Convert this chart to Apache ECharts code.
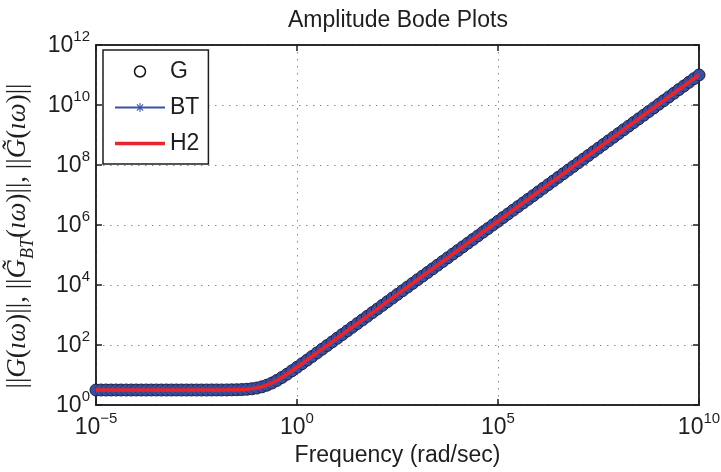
<!DOCTYPE html>
<html>
<head>
<meta charset="utf-8">
<script src="https://cdn.jsdelivr.net/npm/echarts@6/dist/echarts.min.js"></script>
<style>
html,body{margin:0;padding:0;background:#fff;}
#chart{width:721px;height:472px;}
</style>
</head>
<body>
<div id="chart"></div>
<script>
// Frequencies (rad/sec), 8 samples per decade
const frequency = [
  1e-5,1.334e-5,1.778e-5,2.371e-5,3.162e-5,4.217e-5,5.623e-5,7.499e-5,
  1e-4,1.334e-4,1.778e-4,2.371e-4,3.162e-4,4.217e-4,5.623e-4,7.499e-4,
  1e-3,1.334e-3,1.778e-3,2.371e-3,3.162e-3,4.217e-3,5.623e-3,7.499e-3,
  1e-2,1.334e-2,1.778e-2,2.371e-2,3.162e-2,4.217e-2,5.623e-2,7.499e-2,
  1e-1,1.334e-1,1.778e-1,2.371e-1,3.162e-1,4.217e-1,5.623e-1,7.499e-1,
  1e0,1.334e0,1.778e0,2.371e0,3.162e0,4.217e0,5.623e0,7.499e0,
  1e1,1.334e1,1.778e1,2.371e1,3.162e1,4.217e1,5.623e1,7.499e1,
  1e2,1.334e2,1.778e2,2.371e2,3.162e2,4.217e2,5.623e2,7.499e2,
  1e3,1.334e3,1.778e3,2.371e3,3.162e3,4.217e3,5.623e3,7.499e3,
  1e4,1.334e4,1.778e4,2.371e4,3.162e4,4.217e4,5.623e4,7.499e4,
  1e5,1.334e5,1.778e5,2.371e5,3.162e5,4.217e5,5.623e5,7.499e5,
  1e6,1.334e6,1.778e6,2.371e6,3.162e6,4.217e6,5.623e6,7.499e6,
  1e7,1.334e7,1.778e7,2.371e7,3.162e7,4.217e7,5.623e7,7.499e7,
  1e8,1.334e8,1.778e8,2.371e8,3.162e8,4.217e8,5.623e8,7.499e8,
  1e9,1.334e9,1.778e9,2.371e9,3.162e9,4.217e9,5.623e9,7.499e9,
  1e10
];
// ||G(iw)|| (BT and H2 reductions overlay it)
const gMagnitude = [
  3.16,3.16,3.16,3.16,3.16,3.16,3.16,3.16,
  3.16,3.16,3.16,3.16,3.16,3.16,3.16,3.16,
  3.16,3.16,3.16,3.16,3.16,3.16,3.16,3.17,
  3.17,3.17,3.18,3.20,3.22,3.27,3.34,3.47,
  3.68,4.03,4.57,5.39,6.60,8.29,10.6,13.8,
  18.1,23.8,31.3,41.4,54.7,72.4,95.8,126.8,
  168,222,294,390,516,683,904,1200,
  1580,2100,2780,3680,4870,6450,8540,1.13e4,
  1.50e4,1.98e4,2.62e4,3.47e4,4.60e4,6.09e4,8.06e4,1.07e5,
  1.41e5,1.87e5,2.48e5,3.28e5,4.34e5,5.75e5,7.61e5,1.01e6,
  1.33e6,1.77e6,2.34e6,3.10e6,4.10e6,5.43e6,7.18e6,9.51e6,
  1.26e7,1.67e7,2.21e7,2.92e7,3.87e7,5.12e7,6.78e7,8.98e7,
  1.19e8,1.57e8,2.08e8,2.76e8,3.65e8,4.84e8,6.40e8,8.48e8,
  1.12e9,1.49e9,1.97e9,2.60e9,3.45e9,4.57e9,6.04e9,8.00e9,
  1.06e10,1.40e10,1.86e10,2.46e10,3.26e10,4.31e10,5.71e10,7.55e10,
  1.00e11
];
const btMagnitude = gMagnitude;   // balanced truncation curve coincides
const h2Magnitude = gMagnitude;   // H2 reduction curve coincides

const seriesNames = ['G', 'BT', 'H2'];
const xTickValues = [1e-5, 1e0, 1e5, 1e10];
const yTickValues = [1e0, 1e2, 1e4, 1e6, 1e8, 1e10, 1e12];

const pairs = (ys) => frequency.map((f, i) => [f, ys[i]]);

const SANS = "'Liberation Sans', Arial, Helvetica, sans-serif";
const SERIF = "'Liberation Serif', 'Times New Roman', serif";
const INK = '#1e1e1e';

function powLabel(v) {
  const e = Math.round(Math.log10(v));
  const s = e < 0 ? '\u2212' + Math.abs(e) : String(e);
  return '{b|10}{e|' + s + '}';
}
const powRich = {
  b: { fontFamily: SANS, fontSize: 23, lineHeight: 24, color: INK, verticalAlign: 'bottom' },
  e: { fontFamily: SANS, fontSize: 15, lineHeight: 15, color: INK, verticalAlign: 'bottom', padding: [0, 0, 13, 0] }
};

const asterisk = 'path://M-0.6,-5L0.6,-5L0.6,5L-0.6,5Z M-5,-0.6L5,-0.6L5,0.6L-5,0.6Z M-3.96,-3.11L-3.11,-3.96L3.96,3.11L3.11,3.96Z M3.96,-3.11L3.11,-3.96L-3.96,3.11L-3.11,3.96Z';
const redBar = 'path://M0,0L50,0L50,3.5L0,3.5Z';

const gridLine = { show: true, lineStyle: { color: '#8a8a8a', width: 1, type: [1.5, 5.5] } };

const chart = echarts.init(document.getElementById('chart'), null, { renderer: 'canvas' });
chart.setOption({
  animation: false,
  backgroundColor: '#fff',
  title: {
    text: 'Amplitude Bode Plots',
    left: 283, top: 4,
    textStyle: { fontFamily: SANS, fontSize: 23, fontWeight: 'normal', color: INK }
  },
  grid: {
    left: 96, right: 22, top: 45, bottom: 67,
    containLabel: false, outerBoundsMode: 'none',
    show: true, borderColor: INK, borderWidth: 1.5, backgroundColor: 'transparent'
  },
  legend: {
    orient: 'vertical', left: 103, top: 50,
    padding: [10, 9, 9, 11], itemGap: 13,
    itemWidth: 50, itemHeight: 11,
    backgroundColor: '#fff', borderColor: INK, borderWidth: 1.5,
    textStyle: { fontFamily: SANS, fontSize: 23, color: INK },
    data: [
      { name: seriesNames[0], icon: 'circle', itemStyle: { color: '#fff', borderColor: '#111', borderWidth: 1.5 } },
      { name: seriesNames[1] },
      { name: seriesNames[2], icon: redBar, itemStyle: { color: '#ea2429', borderWidth: 0 } }
    ],
    z: 10
  },
  xAxis: [
    {
      type: 'log', logBase: 10, min: 1e-5, max: 1e10, interval: 5, position: 'bottom',
      axisLine: { show: true, lineStyle: { color: INK, width: 1.5 } },
      axisTick: { show: true, inside: true, length: 6, customValues: xTickValues, lineStyle: { color: INK, width: 1.5 } },
      axisLabel: { show: true, margin: 10, formatter: powLabel, rich: powRich, customValues: xTickValues },
      splitLine: gridLine,
      minorTick: { show: false }, minorSplitLine: { show: false },
      name: 'Frequency (rad/sec)', nameLocation: 'middle', nameGap: 38,
      nameTextStyle: { fontFamily: SANS, fontSize: 23, color: INK }
    },
    {
      type: 'log', logBase: 10, min: 1e-5, max: 1e10, interval: 5, position: 'top',
      axisLine: { show: true, lineStyle: { color: INK, width: 1.5 } },
      axisTick: { show: true, inside: true, length: 6, customValues: xTickValues, lineStyle: { color: INK, width: 1.5 } },
      axisLabel: { show: false }, splitLine: { show: false }
    }
  ],
  yAxis: [
    {
      type: 'log', logBase: 10, min: 1e0, max: 1e12, interval: 2, position: 'left',
      axisLine: { show: true, lineStyle: { color: INK, width: 1.5 } },
      axisTick: { show: true, inside: true, length: 6, customValues: yTickValues, lineStyle: { color: INK, width: 1.5 } },
      axisLabel: { show: true, margin: 6, formatter: powLabel, rich: powRich, customValues: yTickValues },
      splitLine: gridLine,
      minorTick: { show: false }, minorSplitLine: { show: false },
      name: '{r|||}{i|G}{r|(}{i|\u0131\u03c9}{r|)||, ||}{i|G\u0303}{s|BT}{r|(}{i|\u0131\u03c9}{r|)||, ||}{i|G\u0303}{r|(}{i|\u0131\u03c9}{r|)||}',
      nameLocation: 'middle', nameGap: 58, nameRotate: 90,
      nameTextStyle: {
        padding: [0, 22, 0, 0],
        rich: {
          r: { fontFamily: SERIF, fontSize: 27, lineHeight: 31, color: INK, verticalAlign: 'bottom', padding: [0, 0, 5, 0] },
          i: { fontFamily: SERIF, fontStyle: 'italic', fontSize: 27, lineHeight: 31, color: INK, verticalAlign: 'bottom', padding: [0, 0, 5, 0] },
          s: { fontFamily: SERIF, fontStyle: 'italic', fontSize: 18, lineHeight: 18, color: INK, verticalAlign: 'bottom' }
        }
      }
    },
    {
      type: 'log', logBase: 10, min: 1e0, max: 1e12, interval: 2, position: 'right',
      axisLine: { show: true, lineStyle: { color: INK, width: 1.5 } },
      axisTick: { show: true, inside: true, length: 6, customValues: yTickValues, lineStyle: { color: INK, width: 1.5 } },
      axisLabel: { show: false }, splitLine: { show: false }
    }
  ],
  series: [
    {
      name: seriesNames[0], type: 'line', data: pairs(gMagnitude),
      symbol: 'circle', symbolSize: 12, showSymbol: true, showAllSymbol: true,
      lineStyle: { width: 0, opacity: 0 },
      itemStyle: { color: '#3b4d9c', borderColor: '#1b2144', borderWidth: 1 },
      silent: true, z: 2
    },
    {
      name: seriesNames[1], type: 'line', data: pairs(btMagnitude),
      symbol: asterisk, symbolSize: 9, showSymbol: true, showAllSymbol: true,
      lineStyle: { color: '#3a52a6', width: 1.3 },
      itemStyle: { color: '#3a52a6' },
      silent: true, z: 3
    },
    {
      name: seriesNames[2], type: 'line', data: pairs(h2Magnitude),
      symbol: 'none', showSymbol: false,
      lineStyle: { color: '#ea2429', width: 3.5 },
      itemStyle: { color: '#ea2429' },
      silent: true, z: 4
    }
  ]
});
</script>
</body>
</html>
